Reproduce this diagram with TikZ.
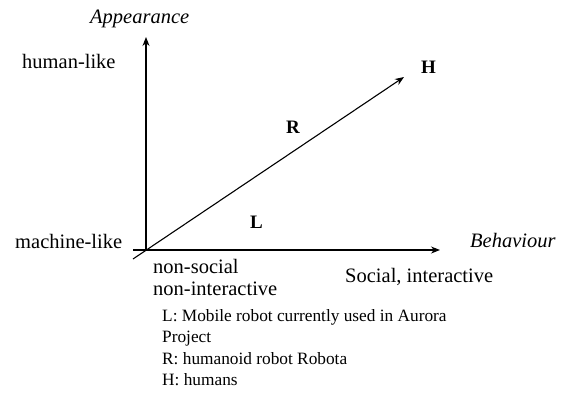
\documentclass[tikz,border=0pt]{standalone}
\usepackage{fontspec}
\setmainfont{Liberation Serif}
\usetikzlibrary{arrows.meta}
\begin{document}
\begin{tikzpicture}[x=1pt,y=-1pt,
  lbl/.style={anchor=base west,inner sep=0pt,font=\fontsize{20.5}{24}\selectfont},
  axlbl/.style={lbl,font=\fontsize{20.5}{24}\selectfont\itshape},
  pt/.style={lbl,font=\fontsize{19}{24}\selectfont\bfseries},
  leg/.style={lbl,font=\fontsize{17.3}{20}\selectfont},
  axis/.style={line width=1.1pt,-{Stealth[length=9pt,width=7pt]}}]
\useasboundingbox (0,0) rectangle (564,402);
\coordinate (O) at (146,250);
\coordinate (ytop) at (146,37);
\coordinate (xstart) at (133,250);
\coordinate (xend) at (440,250);
\coordinate (dstart) at (133,259);
\coordinate (dend) at (404,77);
\draw[axis] (O) -- (ytop);
\draw[axis] (xstart) -- (xend);
\draw[axis] (dstart) -- (dend);
\node[axlbl] (app) at (90,23) {Appearance};
\node[axlbl] (beh) at (470,247) {Behaviour};
\node[lbl] (hl) at (22,68) {human-like};
\node[lbl] (ml) at (15,248) {machine-like};
\node[lbl] (ns) at (153,273) {non-social};
\node[lbl] (ni) at (153,295) {non-interactive};
\node[lbl] (si) at (345,282) {Social, interactive};
\node[pt] (H) at (421,73) {H};
\node[pt] (R) at (286,133) {R};
\node[pt] (L) at (250,228) {L};
\node[leg] (l1) at (162,321) {L: Mobile robot currently used in Aurora};
\node[leg] (l2) at (162,342.5) {Project};
\node[leg] (l3) at (162,364) {R: humanoid robot Robota};
\node[leg] (l4) at (162,385) {H: humans};
\end{tikzpicture}
\end{document}
